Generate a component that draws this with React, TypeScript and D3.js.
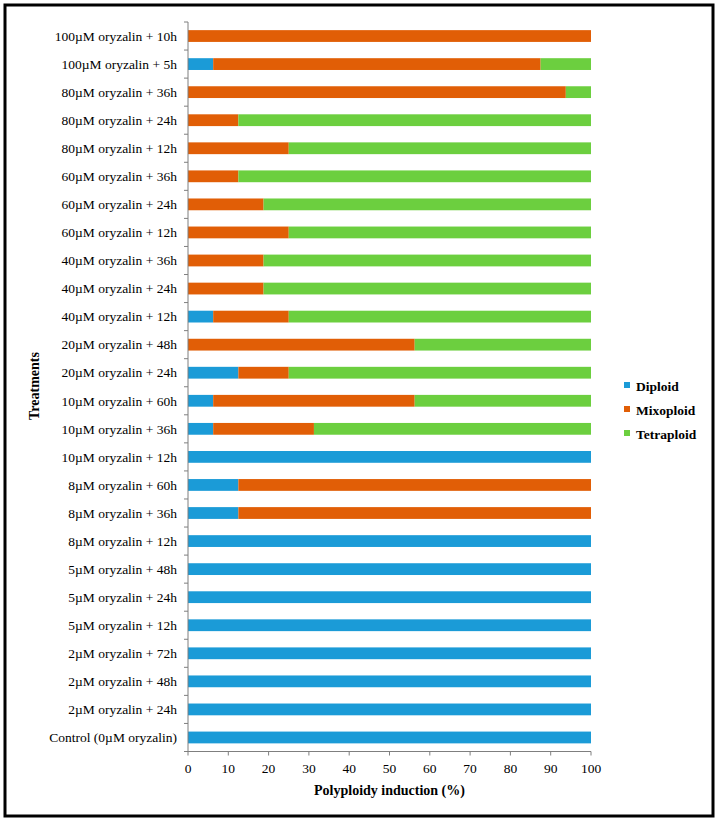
import React from 'react'
import * as d3 from 'd3'

// treatments listed bottom to top, as in the figure
const treatments = [
  'Control (0µM oryzalin)',
  '2µM oryzalin + 24h',
  '2µM oryzalin + 48h',
  '2µM oryzalin + 72h',
  '5µM oryzalin + 12h',
  '5µM oryzalin + 24h',
  '5µM oryzalin + 48h',
  '8µM oryzalin + 12h',
  '8µM oryzalin + 36h',
  '8µM oryzalin + 60h',
  '10µM oryzalin + 12h',
  '10µM oryzalin + 36h',
  '10µM oryzalin + 60h',
  '20µM oryzalin + 24h',
  '20µM oryzalin + 48h',
  '40µM oryzalin + 12h',
  '40µM oryzalin + 24h',
  '40µM oryzalin + 36h',
  '60µM oryzalin + 12h',
  '60µM oryzalin + 24h',
  '60µM oryzalin + 36h',
  '80µM oryzalin + 12h',
  '80µM oryzalin + 24h',
  '80µM oryzalin + 36h',
  '100µM oryzalin + 5h',
  '100µM oryzalin + 10h',
]

const diploid = [100, 100, 100, 100, 100, 100, 100, 100, 12.5, 12.5, 100, 6.25, 6.25, 12.5, 0, 6.25, 0, 0, 0, 0, 0, 0, 0, 0, 6.25, 0]
const mixoploid = [0, 0, 0, 0, 0, 0, 0, 0, 87.5, 87.5, 0, 25, 50, 12.5, 56.25, 18.75, 18.75, 18.75, 25, 18.75, 12.5, 25, 12.5, 93.75, 81.25, 100]
const tetraploid = [0, 0, 0, 0, 0, 0, 0, 0, 0, 0, 0, 68.75, 43.75, 75, 43.75, 75, 81.25, 81.25, 75, 81.25, 87.5, 75, 87.5, 6.25, 12.5, 0]

const seriesNames = ['Diploid', 'Mixoploid', 'Tetraploid']
const seriesColors = ['#1b9bd7', '#e15e06', '#6ccf3f']
const xTicks = [0, 10, 20, 30, 40, 50, 60, 70, 80, 90, 100]

const W = 720
const H = 823
const left = 188
const right = 591
const top = 22
const bottom = 751.5
const font = '"Liberation Serif", "Times New Roman", serif'
const axisColor = '#7f7f7f'

export default function App() {
  const rows = treatments.map((t, i) => ({
    t,
    Diploid: diploid[i],
    Mixoploid: mixoploid[i],
    Tetraploid: tetraploid[i],
  }))
  const stacked = d3.stack<any>().keys(seriesNames)(rows)

  const x = d3.scaleLinear().domain([0, 100]).range([left, right])
  const y = d3.scaleBand<string>()
    .domain([...treatments].reverse())
    .range([top, bottom])
    .paddingInner(0.58)
    .paddingOuter(0.29)
  const step = y.step()
  // band boundaries for the category axis ticks
  const boundaries = d3.range(treatments.length + 1).map(i => top + i * step)

  return (
    <svg width={W} height={H} style={{ position: 'absolute', left: 0, top: 0, background: '#fff' }}>
      <rect x={5} y={5} width={708} height={811} fill="#fff" stroke="#000" strokeWidth={3} />

      {stacked.map((s, si) => (
        <g key={s.key} fill={seriesColors[si]}>
          {s.map((d, i) => (
            d[1] - d[0] > 0 ? (
              <rect
                key={i}
                x={x(d[0])}
                y={y(d.data.t)!}
                width={x(d[1]) - x(d[0])}
                height={y.bandwidth()}
              />
            ) : null
          ))}
        </g>
      ))}

      {/* category axis */}
      <line x1={left} x2={left} y1={top} y2={bottom} stroke={axisColor} strokeWidth={1} />
      {boundaries.map((b, i) => (
        <line key={i} x1={left - 4} x2={left} y1={b} y2={b} stroke={axisColor} />
      ))}
      {treatments.map(t => (
        <text
          key={t}
          x={left - 11}
          y={y(t)! + y.bandwidth() / 2}
          dy="0.35em"
          textAnchor="end"
          fontFamily={font}
          fontSize={13.5}
          fill="#000"
        >{t}</text>
      ))}

      {/* value axis */}
      <line x1={left - 4} x2={right} y1={bottom} y2={bottom} stroke={axisColor} />
      {xTicks.map(v => (
        <g key={v}>
          <line x1={x(v)} x2={x(v)} y1={bottom} y2={bottom + 4} stroke={axisColor} />
          <text x={x(v)} y={bottom + 21} textAnchor="middle" fontFamily={font} fontSize={13.5} fill="#000">{v}</text>
        </g>
      ))}
      <text x={(left + right) / 2} y={bottom + 43} textAnchor="middle" fontFamily={font} fontSize={14} fontWeight="bold">
        Polyploidy induction (%)
      </text>
      <text
        transform={`translate(39,386) rotate(-90)`}
        textAnchor="middle"
        fontFamily={font}
        fontSize={14}
        fontWeight="bold"
      >Treatments</text>

      {/* legend */}
      {seriesNames.map((n, i) => (
        <g key={n} transform={`translate(624,${387 + i * 24})`}>
          <rect x={0} y={-5} width={6} height={6} fill={seriesColors[i]} />
          <text x={12} y={0} dy="0.32em" fontFamily={font} fontSize={13.5} fontWeight="bold">{n}</text>
        </g>
      ))}
    </svg>
  )
}
